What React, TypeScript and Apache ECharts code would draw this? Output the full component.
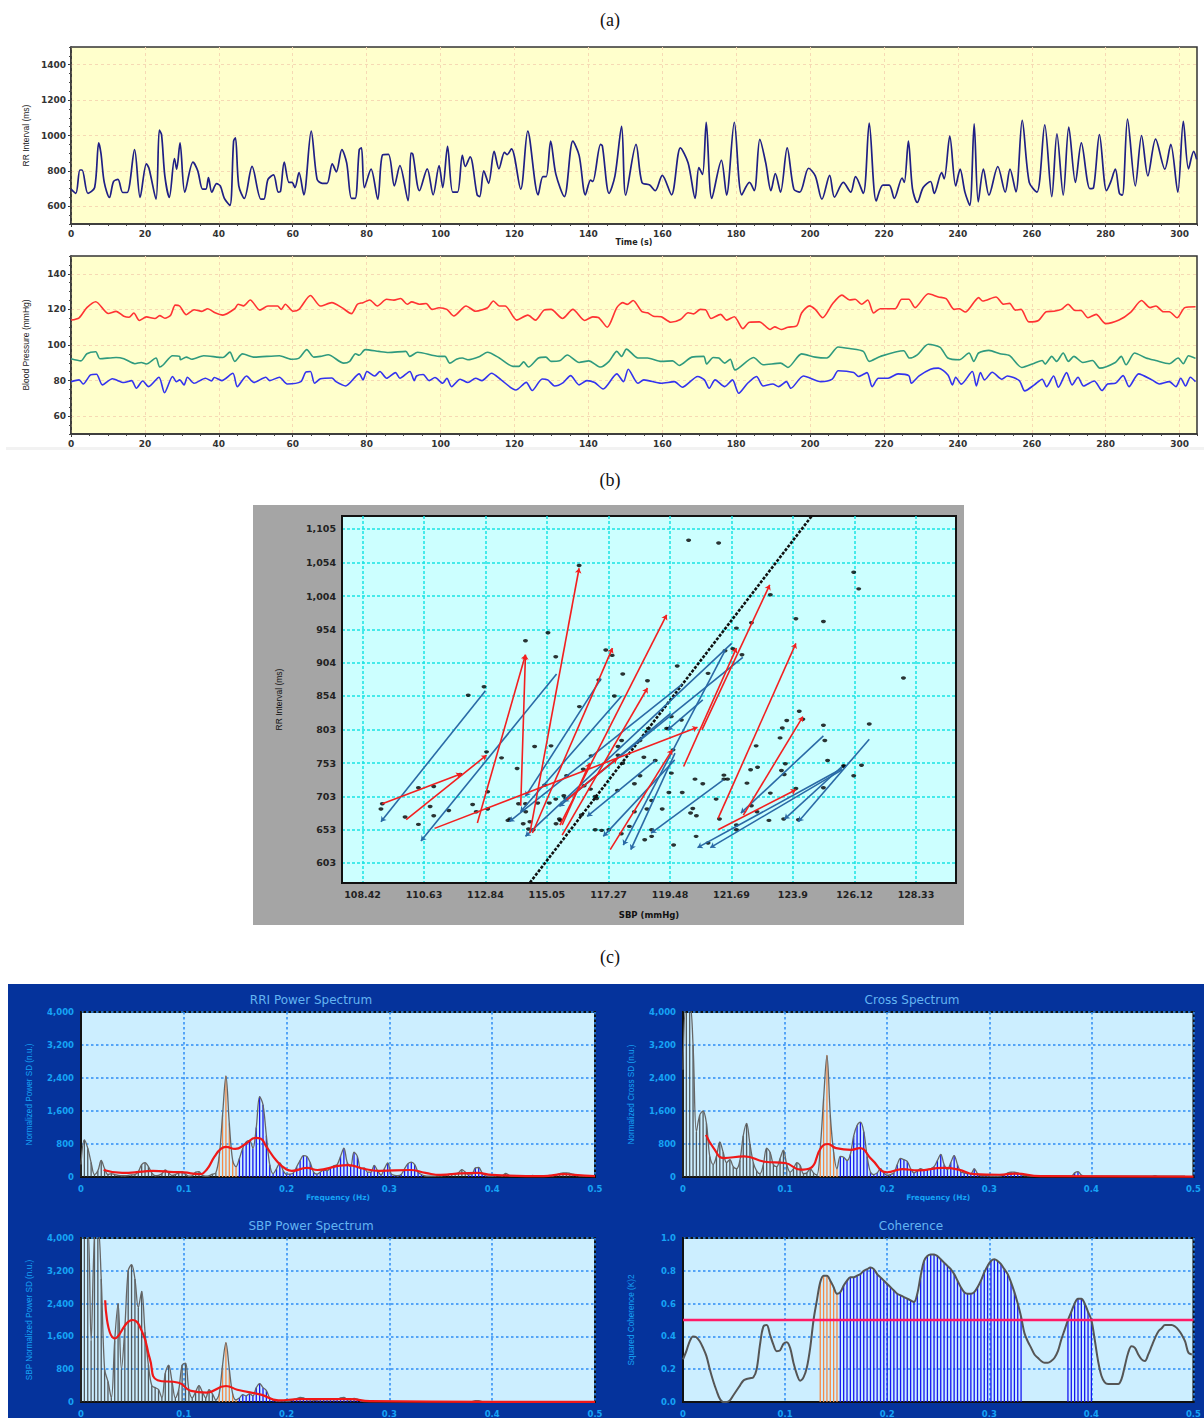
import React, { useEffect, useRef } from "react";
import * as echarts from "echarts";

// ---------- (a) time series: [seconds, value] read at turning points ----------
const rrInterval = [[0,697],[1.3,673],[2.4,805],[3,805],[4.6,673],[6.4,706],[7.5,958],[8.1,900],[9,735],[10.4,650],[11.5,740],[12.7,752],[14,678],[15.2,678],[17.2,920],[18.7,650],[20.4,840],[21.1,815],[23,640],[23.9,1030],[24.5,1005],[25.4,770],[26.6,650],[28,870],[28.6,810],[29.5,958],[30.8,680],[33,850],[34.3,800],[35.6,697],[36.5,697],[37.2,762],[38.1,680],[39.4,728],[40.4,715],[41.5,645],[43,605],[44,968],[44.5,987],[45.4,715],[46.9,645],[49,825],[51.4,640],[52.2,640],[53.3,752],[54.8,777],[56.1,680],[56.7,684],[57.7,850],[59,735],[59.8,735],[60.6,706],[61.7,790],[63,665],[65,1025],[66.6,752],[68,730],[69.3,730],[70.7,840],[71.8,795],[73.3,920],[74.6,845],[75.9,645],[76.9,645],[78,920],[78.6,930],[79.4,705],[81.2,810],[83,640],[84.3,890],[85.9,893],[87.5,715],[89,830],[91.2,632],[92,900],[92.5,895],[94.3,688],[96.4,812],[98,665],[99.6,830],[100.6,706],[101.9,938],[103.3,680],[104.6,680],[105.9,888],[106.7,825],[108,880],[109.9,665],[110.6,655],[111.7,800],[113,730],[114.5,910],[115.8,812],[117.3,905],[118,892],[119.2,925],[121.7,697],[123.6,1025],[126.4,665],[127.7,768],[128.6,768],[129.8,968],[131.2,782],[133.5,655],[135.8,968],[137.5,888],[139.2,665],[140.6,748],[141.2,740],[143.3,950],[143.8,940],[145.6,673],[147.2,772],[149,1052],[150.1,663],[152.9,950],[154.5,735],[156.6,720],[158.1,688],[160,775],[162.5,665],[164.9,930],[167,845],[168.9,645],[169.9,818],[170.9,780],[171.9,1075],[173.4,645],[176,860],[177.4,663],[179.5,1075],[181.5,665],[183.6,735],[184.9,688],[186.4,978],[188,845],[189.4,688],[190.6,785],[192,680],[193.8,930],[195.6,697],[197.2,680],[199.6,815],[201.4,772],[203.2,640],[205.3,775],[206.6,652],[209,735],[211,680],[212.3,768],[214.4,673],[216,1070],[217.9,630],[219.7,720],[221.4,720],[222.8,645],[224.9,760],[225.5,735],[226.6,968],[227.7,700],[229,622],[230.6,706],[232.6,740],[233.6,673],[235.6,790],[236.3,755],[237.8,996],[239.4,715],[240.6,810],[241.9,680],[243.2,605],[244.4,1066],[245.5,625],[246.9,810],[248.4,663],[250.8,825],[252.8,680],[254.1,810],[255.7,682],[257.4,1085],[259.3,735],[261.4,680],[263.5,1060],[265.4,655],[266.8,1010],[268.5,663],[270,1048],[271.8,735],[273.4,958],[275.7,700],[276.7,705],[278.3,1005],[280.2,688],[281.3,735],[282.6,810],[283.7,673],[284.5,663],[285.9,1093],[288,715],[289.7,1000],[291.4,772],[293.5,980],[296,810],[297.6,950],[299.5,680],[301,1080],[302.4,812],[303.8,910],[304.6,865]];
const sbpSeries = [[0,114],[2.2,115.3],[4.3,121],[6.7,124.3],[10.1,117.7],[12.2,118.9],[14.3,116.2],[15.7,115.6],[17,118],[18.5,113.8],[20.4,115.8],[22.7,114.9],[24,116.5],[25.4,115],[27,116.9],[28.2,122.4],[29.4,121.9],[31.2,117],[33.3,119.8],[35.4,118.9],[37,120.4],[39,118.1],[41.1,116.8],[44.3,120.4],[45.2,122.9],[46.7,122],[48.5,125.3],[51.1,119.6],[53.3,121.9],[55.9,121.9],[56.9,120],[58,122.9],[60.1,119],[61.7,120],[64.8,127.8],[67.5,121.9],[70.6,123.8],[73.3,121],[75.9,117.6],[77.5,122.9],[79,123.8],[80.8,125.3],[82.9,121.9],[85.4,125.7],[87.4,125.2],[89.2,126.1],[91,122.9],[92.2,124.2],[94.3,122.9],[96.1,123.3],[97.7,120],[99.6,120.9],[101.7,120],[103.6,116.3],[106.9,121.9],[109.5,119],[112.7,120.9],[114.3,124.7],[115.9,121.9],[117.5,121.9],[120.6,114],[123.6,116.8],[125.7,114],[128,119.6],[129.9,120],[133,114.9],[135.8,120],[139,113.8],[141.2,115.8],[142.7,115.5],[145.1,110],[147.7,121],[149.3,123.8],[150.5,122.8],[152.1,125],[154.5,118.7],[156,118.1],[157.6,116.2],[159.7,115.9],[162.3,112.8],[164.9,114.3],[167,118.1],[168.5,117.5],[170.3,120],[171.7,119.8],[173.2,114.9],[175.8,117.2],[177.4,114],[179.5,115.9],[181.8,109.2],[183.6,112.8],[186.3,113],[189.2,108.7],[190.4,110.2],[192.2,108.7],[194,110],[196.4,110.8],[197.7,118],[199.8,122],[201.4,120],[203.4,115.3],[206,122.9],[208.6,128],[210.7,125.3],[212.2,125.7],[213.9,122.9],[215.6,125.3],[217.2,118],[219,120.4],[223,120.4],[224.8,125.7],[226.7,125.7],[228.4,121],[232,128.8],[234.7,127],[236.8,126],[239,120],[240.4,120.4],[242,118.5],[244.6,124.7],[245.6,126.6],[246.7,124.7],[250.3,127],[252.4,122.9],[254,123.4],[255.5,119.6],[257.1,120],[259.2,113],[261.8,113.8],[263.9,118.7],[266,119],[268,120],[269.8,122.9],[271.7,119.4],[273.3,119.4],[275.2,115.3],[277.4,117.2],[280,112],[283.6,114],[286.8,118.5],[289.7,125],[292,121],[293.6,121.9],[295.6,118.7],[297.2,118.7],[299.3,115.3],[301.4,121],[304.3,121.5]];
const dbpSeries = [[0,92.3],[2.7,91.1],[4.3,95.1],[6.7,96.2],[7.8,92.3],[12.2,93],[14.3,92.3],[17.3,89.5],[19,90.2],[20.4,89.3],[23,92.7],[24,87.6],[25,88.9],[27.5,94],[29.4,93.6],[29.6,91.7],[31.2,93.2],[32.7,92],[35.9,94],[41.1,93],[43,96],[44.3,90.8],[46.4,95],[49.6,93.2],[56.4,94],[59.6,92],[61.7,92.6],[63.8,97.4],[65.7,93.2],[67.5,93.6],[69.6,94.5],[73.8,89.8],[75.4,90.8],[77,95.1],[78,94.2],[79.6,97.4],[83.3,96.4],[85.9,95.8],[90.6,96.4],[91.7,93.6],[93.8,95.9],[99.6,93.6],[101.2,93.6],[102.5,89.8],[104.3,92],[105.9,92.7],[107.4,91.7],[110.6,93.6],[112.7,95.9],[115.9,92.7],[119.6,88],[121.2,88],[122.5,90.5],[123.8,87.6],[126.5,92.7],[128.5,93.2],[129.9,90.8],[132.2,91.1],[134.3,94.4],[137.5,90.2],[140.1,91.1],[143.3,87.6],[145.6,90.8],[147.7,96.4],[149,93.6],[150.3,97.7],[153.4,92.7],[156,92.7],[159.7,90.8],[162.8,91.1],[164.6,88.5],[168,93.2],[171.2,93.6],[172,89.3],[173.8,93],[175.3,92.7],[176.9,89.8],[178.4,92],[179.7,86],[184.7,93],[187.3,88.9],[192,89.8],[194,87.4],[197.7,95],[201.4,93.2],[204.5,92.7],[207.6,98.9],[210.7,98],[214.4,96.4],[216,90.8],[219,93.6],[225.3,96.8],[226.9,92.7],[229,94.5],[232,100.4],[235.2,98.7],[237.3,92.7],[240.4,91.7],[243,95.5],[244.3,90.8],[245.6,95.5],[248.4,97],[251.4,95.1],[254,94],[257.3,87.4],[260.7,89.8],[262.8,91.3],[263.6,89.3],[265.4,93.6],[266.7,90.8],[268.5,95.5],[269.9,90.8],[271.4,93.6],[273.8,90.2],[276.4,91.3],[278.4,87],[282.6,90.2],[284.2,93.6],[285.5,88.9],[287.8,95.5],[290.9,92.7],[293.5,91.3],[297.2,89.5],[299.6,92.7],[301,89.5],[302.4,94],[304.3,92.5]];
const mbpSeries = [[0,79.4],[2.2,80.4],[3.3,78.1],[5.3,83.2],[6.9,83.6],[8.5,77.6],[11.2,81],[14.3,78.9],[16.4,80],[17.7,75.7],[19.4,79.8],[21,76.6],[23.8,81.9],[25.3,73.2],[27.5,82.3],[28.5,79.4],[29.4,80.4],[30.6,77.6],[31.5,81.9],[33.3,78.5],[36.4,81.3],[38,79.8],[38.8,81.7],[40.8,80],[43.8,84.1],[45,76.6],[47.5,82.6],[49.5,79],[52.7,81.9],[53.8,80],[56.4,81.9],[58.5,78.1],[62.2,79.4],[63.5,84.7],[64.8,85.1],[65.9,78.5],[67.5,81],[70.6,81.5],[71.7,79.4],[74.3,77],[78,83.8],[79,80.4],[80.1,85.1],[82.2,82.6],[83.6,85.1],[85.4,81.3],[87.8,84.5],[89,81.3],[91.7,85.1],[92.9,80],[93.5,82.6],[95.3,83.4],[96.9,80],[98.5,81.7],[100.6,78.5],[101.7,81.3],[103,76.6],[105.3,80.8],[107.4,78.9],[109.5,81.3],[111.2,80],[113.8,84.1],[116.4,80.4],[120.4,74.7],[123.2,79],[124.8,74.4],[127.5,80.9],[129,80.4],[130.9,77],[133.2,78.9],[135.2,82.8],[137.5,77.6],[139.6,80],[141.7,78.9],[144,75.3],[147.7,83.8],[149.5,79.4],[150.8,86.4],[153.4,78.5],[155,80.4],[159.7,78.5],[163.3,79.4],[165.4,76.3],[169.6,82.3],[171.4,80.4],[172.7,75.7],[174.3,80.4],[176.9,76.6],[179,80.4],[180.7,72.9],[183.1,78.5],[185.5,82.3],[187.3,77],[189.9,78.1],[191.5,76.6],[193.6,79.4],[194.8,75.7],[198.2,82.6],[202.9,79.4],[206,80.8],[207.6,85.5],[211.8,84.5],[213.1,82.3],[215.4,84.5],[216.8,76.6],[218.5,81.3],[221.1,81.3],[223.8,83.8],[226.7,82.8],[227.4,78.5],[229.5,82.6],[232.6,86.4],[234.7,87],[237.3,83.2],[238.5,77.6],[239.4,81.9],[240.9,78],[243.9,85.1],[245,77],[246.1,84.5],[247.2,80.4],[249.3,84.7],[251.9,80.8],[253.4,82.6],[256.6,80],[258.1,74.2],[260.7,77.6],[262.8,80.8],[264,76.6],[265.9,82.6],[267.2,76.3],[269.4,84.5],[270.9,77.6],[272.5,81.9],[274,77],[276.9,79.8],[279,74.4],[280.5,78.1],[282.6,78.5],[284.7,82.8],[286.3,76.6],[288.9,83.8],[292.5,80.4],[294.5,78.1],[297.2,79.4],[299,76.6],[300.3,81.3],[301.6,77],[302.9,81.9],[304.3,79.4]];
const rrTicks = [600, 800, 1000, 1200, 1400];
const bpTicks = [60, 80, 100, 120, 140];
const timeTicks = [0, 20, 40, 60, 80, 100, 120, 140, 160, 180, 200, 220, 240, 260, 280, 300];

// ---------- (b) baroreflex sequence plot ----------
const sbpLabels = [108.42, 110.63, 112.84, 115.05, 117.27, 119.48, 121.69, 123.9, 126.12, 128.33];
const rrLabels = [603, 653, 703, 753, 803, 854, 904, 954, 1004, 1054, 1105];
const beats = [[109.08,684],[109.13,692],[109.95,672],[110.43,661],[110.43,716],[110.98,718],[110.85,688],[110.98,674],[111.52,682],[111.93,736],[112.22,855],[112.38,691],[112.51,680],[112.79,868],[112.88,770],[112.92,710],[112.92,684],[113.42,761],[113.65,667],[113.72,669],[113.98,745],[114.03,692],[114.2,662],[114.28,937],[114.28,692],[114.29,680],[114.44,665],[114.39,654],[114.56,653],[114.61,778],[114.72,693],[114.97,720],[115.09,949],[115.14,693],[115.2,779],[115.37,913],[115.37,699],[115.38,662],[115.5,669],[115.53,667],[115.66,704],[115.76,734],[115.73,700],[116.22,838],[116.21,1050],[116.36,744],[116.29,675],[116.39,719],[116.62,714],[116.64,764],[116.79,703],[116.84,700],[116.92,878],[116.79,653],[117.02,652],[117.28,653],[117.17,923],[117.4,915],[117.48,854],[117.61,778],[117.61,765],[117.59,712],[117.78,887],[117.74,787],[117.78,753],[117.73,647],[118.02,658],[118.2,680],[118.2,722],[118.4,734],[118.4,787],[118.54,762],[118.57,638],[118.67,877],[118.7,805],[118.82,653],[118.82,643],[118.82,697],[118.65,684],[118.95,757],[119.2,684],[119.36,805],[119.43,805],[119.44,709],[119.53,738],[119.53,823],[119.59,773],[119.61,630],[119.74,899],[119.89,818],[119.92,709],[120.15,1088],[120.22,678],[120.3,685],[120.43,674],[120.42,643],[120.38,729],[120.66,722],[120.85,633],[120.85,888],[121.14,699],[121.23,1084],[121.26,669],[121.42,735],[121.55,729],[121.42,729],[121.46,922],[121.87,956],[121.74,925],[121.87,660],[121.87,653],[122.07,916],[122.25,723],[122.41,689],[122.38,743],[122.41,964],[122.58,779],[122.63,747],[122.61,680],[123.04,667],[123.09,708],[123.09,1006],[123.44,791],[123.52,806],[123.49,742],[123.59,736],[123.63,752],[123.68,817],[123.57,669],[124.01,715],[124.01,970],[124.13,831],[124.26,819],[124.1,668],[125,966],[125,810],[125.05,787],[125,716],[125.15,757],[125.73,749],[125.73,748],[126.09,734],[126.09,1040],[126.27,1015],[126.37,750],[126.65,812],[127.88,881]];
const redSequences = [[109.13,692,111.97,737],[109.99,668,112.88,765],[111.01,655,120.47,807],[112.55,663,114.28,916],[114.11,689,114.28,916],[114.44,648,116.21,1046],[114.53,648,117.41,926],[115.52,660,119.36,976],[115.6,645,118.67,866],[115.6,660,116.59,753],[115.76,698,117.58,760],[117.33,623,119.56,773],[119.97,748,121.87,926],[120.63,803,123.07,1021],[121.21,670,124.01,933],[122.12,675,124.26,823],[121.21,653,124.01,713]];
const blueSequences = [[112.84,862,109.08,665],[115.4,887,110.52,636],[117,880,114.28,703],[117.74,854,114.1,680],[119.9,871,113.7,665],[119.5,828,115.5,688],[121.46,922,117.8,630],[122.1,912,115.66,695],[121.7,933,114.28,643],[119.66,768,118.07,623],[118.95,757,116.5,673],[119.65,758,117.08,643],[125,794,122.03,678],[126.65,789,124.1,665],[125.67,748,123.6,669],[125.67,745,120.47,626],[125.67,743,120.93,626],[121.4,728,118.8,648],[120.66,848,119.4,803]];
const regressionLine = [[114.44,573.4],[124.59,1125]];

// ---------- (c) spectra: one value per 1/305 Hz bin ----------
const rriPower = [300,900,700,350,60,150,400,200,60,80,60,40,30,30,40,50,60,130,300,350,250,100,30,40,80,170,100,40,60,100,130,70,20,30,120,130,40,20,30,70,100,500,1500,2450,1300,400,250,450,700,850,880,700,1200,1950,1750,1000,300,80,200,340,150,70,70,100,250,400,520,500,350,120,70,120,170,150,220,270,300,500,700,350,250,600,500,200,220,120,120,280,150,50,200,340,80,40,30,60,200,320,360,300,120,60,30,20,20,20,30,30,40,60,80,70,100,180,120,50,60,220,230,100,30,20,20,30,40,30,90,40,20,20,20,30,20,20,40,20,30,20,30,40,30,50,80,100,100,90,70,50,30,30,20,20,20];
const crossPower = [2600,4200,4200,3200,1100,1500,1600,1300,500,300,500,850,600,350,420,250,200,400,1000,1300,800,350,150,80,300,700,600,300,250,450,650,300,120,200,350,280,80,100,200,100,50,700,1900,2950,1500,600,200,500,480,400,550,1000,1250,1330,1100,500,120,60,100,200,100,40,60,100,300,450,420,380,200,100,150,200,170,180,200,250,400,550,300,180,350,520,300,120,100,80,80,200,80,30,30,30,20,20,20,30,50,100,120,120,100,60,40,30,20,20,20,20,20,20,20,20,20,20,20,20,20,100,130,50,20,20,20,20,20,20,20,20,20,20,20,20,20,20,20,20,20,20,20,20,20,30,20,20,20,20,20,20,20,20,20];
const sbpPower = [4300,4300,4300,1500,4000,4300,3000,800,500,100,1500,2400,800,1800,3200,3350,3000,2300,2700,1700,900,400,350,300,100,700,900,500,100,300,900,950,300,100,250,400,250,100,300,200,50,200,900,1450,800,200,50,100,180,150,200,150,350,450,350,280,100,50,30,30,30,20,30,60,80,110,100,60,60,40,50,60,60,60,60,60,60,100,110,60,50,90,70,30,10,10,10,10,10,10,10,10,10,10,10,10,10,10,10,10,10,10,10,10,10,10,10,10,10,10,10,10,10,10,10,10,10,30,30,10,10,10,10,10,10,10,10,10,10,10,10,10,10,10,10,10,10,10,10,10,10,10,10,10,10,10,10,10,10];
const coherence = [.26,.31,.37,.40,.395,.37,.33,.28,.2,.13,.07,.02,0,0,.01,.04,.07,.1,.13,.14,.145,.15,.2,.35,.46,.47,.41,.35,.31,.315,.355,.365,.33,.24,.17,.13,.15,.21,.33,.5,.62,.73,.77,.77,.74,.7,.66,.67,.71,.74,.76,.76,.77,.78,.8,.81,.82,.81,.78,.76,.74,.72,.7,.68,.66,.65,.64,.63,.62,.61,.66,.77,.86,.89,.9,.9,.89,.87,.85,.83,.81,.78,.74,.7,.67,.66,.66,.67,.7,.74,.79,.83,.86,.87,.86,.84,.81,.78,.73,.67,.6,.52,.42,.37,.33,.29,.27,.25,.24,.24,.25,.27,.31,.38,.44,.5,.55,.6,.63,.63,.6,.55,.5,.38,.25,.16,.12,.11,.11,.11,.11,.14,.22,.3,.34,.33,.29,.26,.25,.29,.34,.39,.43,.45,.47,.47,.47,.46,.44,.41,.37,.3,.29];
const rriSmooth = [[.022,170],[.04,100],[.06,130],[.07,150],[.09,120],[.1,110],[.115,70],[.122,170],[.13,500],[.136,680],[.141,730],[.15,680],[.16,800],[.17,950],[.175,930],[.18,750],[.19,400],[.2,180],[.205,150],[.22,220],[.23,170],[.25,270],[.26,290],[.275,200],[.29,150],[.32,170],[.335,100],[.35,50],[.37,90],[.385,100],[.4,50],[.45,20],[.47,70],[.48,50],[.5,20]];
const crossSmooth = [[.0225,1020],[.03,700],[.04,460],[.06,500],[.08,370],[.1,340],[.115,180],[.125,220],[.135,700],[.142,800],[.15,700],[.165,660],[.173,700],[.185,420],[.2,115],[.215,190],[.23,160],[.255,220],[.27,180],[.285,70],[.31,55],[.325,80],[.35,20],[.5,10]];
const sbpSmooth = [[.0235,2480],[.033,1550],[.05,2000],[.06,1680],[.067,1050],[.0745,530],[.095,470],[.107,270],[.122,230],[.141,390],[.152,300],[.175,180],[.192,40],[.213,70],[.262,70],[.281,20],[.4,5],[.5,5]];
const powerTicks = [0, 800, 1600, 2400, 3200, 4000];
const cohTicks = [0, 0.2, 0.4, 0.6, 0.8, 1];
const freqTicks = [0, 0.1, 0.2, 0.3, 0.4, 0.5];
const binsPerHz = 305;
const coherenceLimit = [[0, 0.5], [0.5, 0.5]];

const sansBold = "'DejaVu Sans'";
const narrow = "'Liberation Sans'";

const rightBand = (k: number) => k >= 47 && k <= 101 ? "blue" : k >= 115 && k <= 122 ? "blue" : k >= 41 && k <= 46 ? "orange" : "gray";

export default function App() {
  const ref = useRef<HTMLDivElement>(null);
  useEffect(() => {
    const chart = echarts.init(ref.current!, null, { renderer: "svg" });
    const grids: any[] = [];
    const xAxes: any[] = [];
    const yAxes: any[] = [];
    const series: any[] = [];

    // Adds a plot and returns its axis indices.
    const addPanel = (o: any) => {
      const g = grids.length;
      grids.push({ left: o.l, top: o.t, width: o.w, height: o.h, show: true, backgroundColor: o.bg, borderColor: o.border, borderWidth: o.bw, containLabel: false });
      const ix = xAxes.length, iy = yAxes.length;
      const lab = { show: true, fontFamily: sansBold, fontWeight: "bold", fontSize: o.fs, color: o.tc, margin: o.mg, showMinLabel: true, showMaxLabel: true, hideOverlap: false };
      const split = { show: true, lineStyle: { color: o.gc, type: o.gd, width: o.gw } };
      xAxes.push({
        type: "value", gridIndex: g, position: "bottom", min: o.xr[0], max: o.xr[1],
        name: o.xn, nameLocation: "middle", nameGap: o.xg,
        nameTextStyle: { fontFamily: sansBold, fontWeight: "bold", fontSize: o.nfs ?? o.fs - 1, color: o.nc },
        axisLine: { show: true, onZero: false, lineStyle: { color: o.border, width: o.bw } },
        axisTick: { show: o.tk, length: 3, customValues: o.xt, lineStyle: { color: o.border } },
        axisLabel: { ...lab, customValues: o.xt, formatter: o.xf ?? ((v: number) => String(v)) },
        splitLine: split,
      });
      yAxes.push({
        type: "value", gridIndex: g, position: "left", min: o.yr[0], max: o.yr[1],
        name: o.yn, nameLocation: "middle", nameGap: o.yg, nameRotate: 90,
        nameTextStyle: { fontFamily: narrow, fontSize: o.ynfs, color: o.nc },
        axisLine: { show: true, onZero: false, lineStyle: { color: o.border, width: o.bw } },
        axisTick: { show: o.tk, length: 3, customValues: o.yt, lineStyle: { color: o.border } },
        axisLabel: { ...lab, customValues: o.yt, formatter: o.yf ?? ((v: number) => v.toLocaleString("en-US")) },
        splitLine: split,
      });
      if (o.minorX) {
        xAxes.push({ type: "value", gridIndex: g, position: "bottom", min: o.xr[0], max: o.xr[1], interval: o.minorX, axisLine: { show: false }, axisLabel: { show: false }, splitLine: { show: false }, axisTick: { show: true, length: 2, lineStyle: { color: "#444" } } });
        yAxes.push({ type: "value", gridIndex: g, position: "left", min: o.yr[0], max: o.yr[1], interval: o.minorY, axisLine: { show: false }, axisLabel: { show: false }, splitLine: { show: false }, axisTick: { show: true, length: 2, lineStyle: { color: "#444" } } });
      }
      return { xAxisIndex: ix, yAxisIndex: iy };
    };

    const line = (ax: any, data: any, color: string, width: number, smooth: any = false, extra: any = {}) =>
      series.push({ type: "line", ...ax, data, symbol: "none", smooth, animation: false, lineStyle: { color, width, join: "round" }, itemStyle: { color }, ...extra });

    // (a)
    const aBase = { l: 71, w: 1126, bg: "#ffffcc", border: "#333", bw: 1.5, fs: 9, tc: "#333", nc: "#222", mg: 5, gc: "#f6d9b4", gd: [3, 3], gw: 1, xt: timeTicks, xr: [0, 304.7], tk: true, ynfs: 8.5, yg: 41 };
    const a1 = addPanel({ ...aBase, t: 47, h: 177, yr: [500, 1500], yt: rrTicks, minorX: 5, minorY: 50, xn: "Time (s)", xg: 14, nfs: 8, yn: "RR Interval (ms)", yf: (v: number) => String(v) });
    line(a1, rrInterval, "#1f1f85", 1.7, 0.3);
    const a2 = addPanel({ ...aBase, t: 256, h: 178, yr: [50, 150], yt: bpTicks, minorX: 5, minorY: 5, yn: "Blood Pressure (mmHg)", yf: (v: number) => String(v) });
    line(a2, sbpSeries, "#ff3333", 1.6, 0.25);
    line(a2, dbpSeries, "#2f9a7e", 1.6, 0.25);
    line(a2, mbpSeries, "#3333ee", 1.6, 0.25);

    // (b)
    const b = addPanel({ l: 342, t: 516, w: 614, h: 367, bg: "#ccffff", border: "#111", bw: 2, fs: 9.5, tc: "#222", nc: "#111", mg: 6, gc: "#19e3e3", gd: [3, 2], gw: 1.5, xt: sbpLabels, xr: [107.68, 129.77], yt: rrLabels, yr: [572.9, 1124.5], tk: false, xn: "SBP (mmHg)", xg: 27, nfs: 8.5, yn: "RR Interval (ms)", yg: 59, ynfs: 8.5 });
    series.push({ type: "scatter", ...b, data: beats, symbol: "circle", symbolSize: [5, 3.4], itemStyle: { color: "#000" }, z: 3 });
    line(b, regressionLine, "#111", 2.6, false, { z: 4, lineStyle: { color: "#111", width: 2.6, type: [3, 1.5] } });
    const arrows = (rows: number[][], color: string) => series.push({
      type: "lines", coordinateSystem: "cartesian2d", ...b, z: 5, symbol: ["none", "arrow"], symbolSize: 5,
      lineStyle: { color, width: 1.6, opacity: 1, curveness: 0 },
      data: rows.map((r) => ({ coords: [[r[0], r[1]], [r[2], r[3]]] })),
    });
    arrows(blueSequences, "#2a6aa6");
    arrows(redSequences, "#f32020");

    // (c)
    const cBase = { bg: "#cceeff", border: "#111", bw: 2, fs: 8.5, tc: "#16a3f5", nc: "#16a3f5", mg: 7, gc: "#2d8cf5", gd: [2.5, 2.5], gw: 1.5, xt: freqTicks, xr: [0, 0.5], tk: false, ynfs: 8.2, yg: 48, nfs: 7.5 };
    const stems = (ax: any, values: number[], onlyBands = false) => {
      const palette: any = { blue: "#1616f0", orange: "#f58a45", gray: "#333" };
      series.push({
        type: "bar", ...ax, barWidth: 1.3, animation: false, z: 2,
        data: values.map((v, k) => {
          const band = rightBand(k);
          return { value: [k / binsPerHz, onlyBands && band === "gray" ? 0 : v], itemStyle: { color: palette[band], opacity: band === "gray" ? 0.8 : 1 } };
        }),
      });
    };
    const curve = (values: number[]) => values.map((v, k) => [k / binsPerHz, v]);
    const c1 = addPanel({ ...cBase, l: 81, t: 1012, w: 514, h: 165, yr: [0, 4000], yt: powerTicks, xn: "Frequency (Hz)", xg: 16, yn: "Normalized Power SD (n.u.)" });
    stems(c1, rriPower);
    line(c1, curve(rriPower), "#666", 1.3, 0.35, { z: 3 });
    line(c1, rriSmooth, "#f01818", 2.2, true, { z: 4 });
    const c2 = addPanel({ ...cBase, l: 683, t: 1012, w: 513, h: 165, yr: [0, 4000], yt: powerTicks, xn: "Frequency (Hz)", xg: 16, yn: "Normalized Cross SD (n.u.)" });
    stems(c2, crossPower);
    line(c2, curve(crossPower), "#666", 1.3, 0.35, { z: 3 });
    line(c2, crossSmooth, "#f01818", 2.2, true, { z: 4 });
    const c3 = addPanel({ ...cBase, l: 81, t: 1238, w: 514, h: 166, yr: [0, 4000], yt: powerTicks, yn: "SBP Normalized Power SD (n.u.)" });
    stems(c3, sbpPower);
    line(c3, curve(sbpPower), "#666", 1.3, 0.35, { z: 3 });
    line(c3, sbpSmooth, "#f01818", 2.2, true, { z: 4 });
    const c4 = addPanel({ ...cBase, l: 683, t: 1238, w: 513, h: 166, yr: [0, 1], yt: cohTicks, yn: "Squared Coherence (K)2", yf: (v: number) => v.toFixed(1) });
    stems(c4, coherence, true);
    line(c4, curve(coherence), "#555", 2, 0.35, { z: 3 });
    line(c4, coherenceLimit, "#ff1a66", 2.4, false, { z: 4 });

    const caption = (text: string, y: number) => ({ type: "text", x: 610, y, style: { text, fontFamily: "'Liberation Serif'", fontSize: 18, fill: "#111", align: "center", verticalAlign: "middle" } });
    const heading = (text: string, x: number, y: number) => ({ type: "text", x, y, style: { text, fontFamily: sansBold, fontSize: 12, fill: "#63b4f2", align: "center", verticalAlign: "middle" } });

    chart.setOption({
      animation: false,
      grid: grids,
      xAxis: xAxes,
      yAxis: yAxes,
      series,
      graphic: [
        { type: "rect", z: -10, shape: { x: 6, y: 447, width: 1198, height: 3 }, style: { fill: "#f2f2f2" } },
        { type: "rect", z: -10, shape: { x: 253, y: 505, width: 711, height: 420 }, style: { fill: "#a5a5a5" } },
        { type: "rect", z: -10, shape: { x: 8, y: 984, width: 1196, height: 434 }, style: { fill: "#05339c" } },
        caption("(a)", 20), caption("(b)", 480), caption("(c)", 957),
        heading("RRI Power Spectrum", 311, 1000), heading("Cross Spectrum", 912, 1000),
        heading("SBP Power Spectrum", 311, 1226), heading("Coherence", 911, 1226),
      ],
    });
    return () => chart.dispose();
  }, []);
  return <div ref={ref} style={{ position: "absolute", left: 0, top: 0, width: 1204, height: 1418, background: "#fff" }} />;
}
